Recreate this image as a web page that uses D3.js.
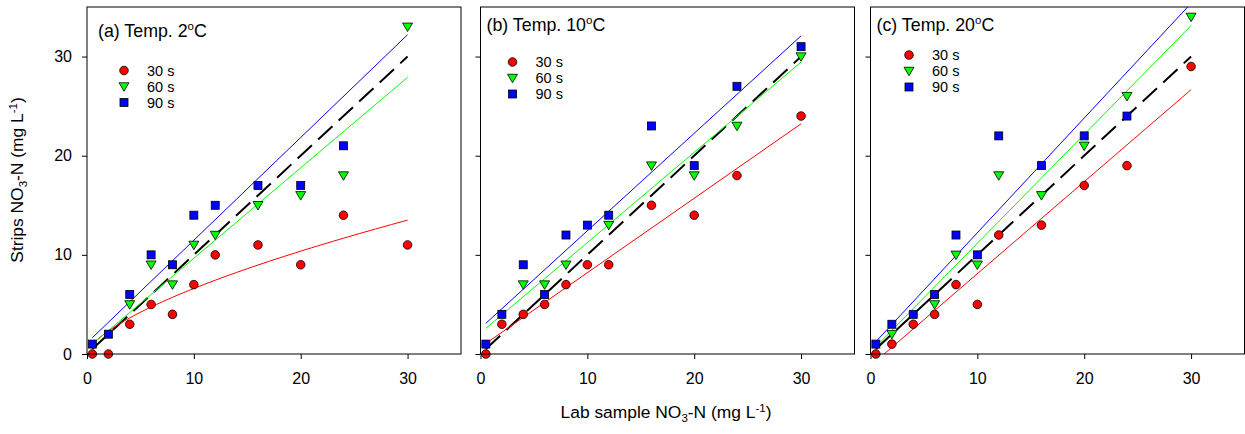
<!DOCTYPE html>
<html>
<head>
<meta charset="utf-8">
<script src="https://cdn.jsdelivr.net/npm/d3@7"></script>
<style>
  body { margin: 0; background: #fff; }
  text { font-family: "Liberation Sans", Arial, sans-serif; fill: #000; }
</style>
</head>
<body>
<svg id="chart" width="1245" height="434"></svg>
<script>
// lab sample concentrations (x), same for every panel
var labX = [0.5, 2, 4, 6, 8, 10, 12, 16, 20, 24, 30];

var seriesNames = ['30 s', '60 s', '90 s'];
var panelTitles = ['(a) Temp. 2', '(b) Temp. 10', '(c) Temp. 20'];
var xTicks = [0, 10, 20, 30];
var yTicks = [0, 10, 20, 30];

// strip readings (null = marker hidden under another one)
var a30 = [0, 0, 3, 5, 4, 7, 10, 11, 9, 14, 11];
var a60 = [null, null, 5, 9, 7, 11, 12, 15, 16, 18, 33];
var a90 = [1, 2, 6, 10, 9, 14, 15, 17, 17, 21, null];

var b30 = [0, 3, 4, 5, 7, 9, 9, 15, 14, 18, 24];
var b60 = [null, null, 7, 7, 9, null, 13, 19, 18, 23, 30];
var b90 = [1, 4, 9, 6, 12, 13, 14, 23, 19, 27, 31];

var c30 = [0, 1, 3, 4, 7, 5, 12, 13, 17, 19, 29];
var c60 = [null, 2, null, 5, 10, 9, 18, 16, 21, 26, 34];
var c90 = [1, 3, 4, 6, 12, 10, 22, 19, 22, 24, null];

// fitted lines (slope, intercept), per panel: 30 s, 60 s, 90 s
var fitSlopes = [[null, 0.912, 1.036], [0.751, 0.9105, 0.983], [0.928, 1.098, 1.157]];
var fitIntercepts = [[null, 0.54, 1.12], [0.69, 2.13, 2.6], [-1.18, 0.19, 0.66]];
// panel (a) 30 s is a curve: y = k * x^p
var powerFitA30 = [1.48, 0.65];

var panelData = [[a30, a60, a90], [b30, b60, b90], [c30, c60, c90]];
var colors = ['#ff0000', '#00ff00', '#0000ff'];

// layout
var panelLeft = [87, 480.5, 870.5];
var panelW = 374;
var plotTop = 7, plotBottom = 354;
var titleDx = [11, 6, 6], titleY = [37, 31, 31];
var legendDx = [37, 32, 38.5], legendY = [70.5, 62, 55], legendStep = 16;

var svg = d3.select('#chart');

var y = d3.scaleLinear().domain([0, 35]).range([plotBottom, plotTop]);

function drawMarker(g, kind, cx, cy, fill) {
  if (kind == 0) {
    g.append('circle').attr('cx', cx).attr('cy', cy).attr('r', 4.3)
      .attr('fill', fill).attr('stroke', '#000').attr('stroke-width', 0.8);
  } else if (kind == 1) {
    var s = 5;
    g.append('path')
      .attr('d', 'M' + (cx - s) + ',' + (cy - s * 0.75) + 'L' + (cx + s) + ',' + (cy - s * 0.75) + 'L' + cx + ',' + (cy + s * 0.95) + 'Z')
      .attr('fill', fill).attr('stroke', '#000').attr('stroke-width', 0.8);
  } else {
    g.append('rect').attr('x', cx - 4).attr('y', cy - 4).attr('width', 8).attr('height', 8)
      .attr('fill', fill).attr('stroke', '#000').attr('stroke-width', 0.8);
  }
}

panelData.forEach(function(series, p) {
  var left = panelLeft[p];
  var x = d3.scaleLinear().domain([0, 35]).range([left, left + panelW]);
  var g = svg.append('g');

  g.append('clipPath').attr('id', 'clip' + p)
    .append('rect').attr('x', left).attr('y', plotTop).attr('width', panelW).attr('height', plotBottom - plotTop);

  // axes
  var xAxis = g.append('g').attr('transform', 'translate(0,' + plotBottom + ')')
    .call(d3.axisBottom(x).tickValues(xTicks).tickSize(5).tickPadding(14).tickSizeOuter(0));
  var yAxis = g.append('g').attr('transform', 'translate(' + left + ',0)')
    .call(d3.axisLeft(y).tickValues(yTicks).tickSize(5).tickPadding(10).tickSizeOuter(0)
      .tickFormat(p == 0 ? d3.format('d') : function() { return ''; }));
  [xAxis, yAxis].forEach(function(ax) {
    ax.select('.domain').remove();
    ax.selectAll('.tick line').attr('stroke', '#000');
    ax.selectAll('.tick text').style('font-size', '16px').style('font-family', '"Liberation Sans", Arial, sans-serif');
  });

  var plot = g.append('g').attr('clip-path', 'url(#clip' + p + ')');

  // 1:1 reference
  plot.append('path')
    .datum([0.5, 30])
    .attr('d', d3.line().x(function(d) { return x(d); }).y(function(d) { return y(d); }))
    .attr('stroke', '#000').attr('stroke-width', 2).attr('stroke-dasharray', '19.5,8.5').attr('fill', 'none');

  // fitted lines
  series.forEach(function(vals, s) {
    var pts;
    if (fitSlopes[p][s] == null) {
      pts = d3.range(0.5, 30.01, 0.5).map(function(v) { return [v, powerFitA30[0] * Math.pow(v, powerFitA30[1])]; });
    } else {
      pts = [0.5, 30].map(function(v) { return [v, fitIntercepts[p][s] + fitSlopes[p][s] * v]; });
    }
    plot.append('path').datum(pts)
      .attr('d', d3.line().x(function(d) { return x(d[0]); }).y(function(d) { return y(d[1]); }))
      .attr('stroke', colors[s]).attr('stroke-width', 1).attr('fill', 'none');
  });

  // markers
  series.forEach(function(vals, s) {
    var mg = g.append('g');
    vals.forEach(function(v, i) {
      if (v == null) return;
      drawMarker(mg, s, x(labX[i]), y(v), colors[s]);
    });
  });

  // frame
  g.append('rect').attr('x', left).attr('y', plotTop).attr('width', panelW).attr('height', plotBottom - plotTop)
    .attr('fill', 'none').attr('stroke', '#000').attr('stroke-width', 1);

  // title with degree sign as superscript o
  var t = g.append('text').attr('x', left + titleDx[p]).attr('y', titleY[p]).style('font-size', '17.8px');
  t.append('tspan').text(panelTitles[p]);
  t.append('tspan').attr('dy', -7).style('font-size', '11.5px').text('o');
  t.append('tspan').attr('dy', 7).text('C');

  // legend
  seriesNames.forEach(function(name, s) {
    var ly = legendY[p] + s * legendStep;
    drawMarker(g, s, left + legendDx[p], ly, colors[s]);
    g.append('text').attr('x', left + legendDx[p] + 23).attr('y', ly + 5)
      .style('font-size', '14.5px').text(name);
  });
});

// axis titles
var xl = svg.append('text').attr('x', 666).attr('y', 418).attr('text-anchor', 'middle').style('font-size', '17.4px');
xl.append('tspan').text('Lab sample NO');
xl.append('tspan').attr('dy', 4).style('font-size', '11.5px').text('3');
xl.append('tspan').attr('dy', -4).text('-N (mg L');
xl.append('tspan').attr('dy', -6).style('font-size', '11.5px').text('-1');
xl.append('tspan').attr('dy', 6).text(')');

var yl = svg.append('text').attr('transform', 'translate(23,180) rotate(-90)').attr('text-anchor', 'middle').style('font-size', '17.4px');
yl.append('tspan').text('Strips NO');
yl.append('tspan').attr('dy', 4).style('font-size', '11.5px').text('3');
yl.append('tspan').attr('dy', -4).text('-N (mg L');
yl.append('tspan').attr('dy', -6).style('font-size', '11.5px').text('-1');
yl.append('tspan').attr('dy', 6).text(')');
</script>
</body>
</html>
